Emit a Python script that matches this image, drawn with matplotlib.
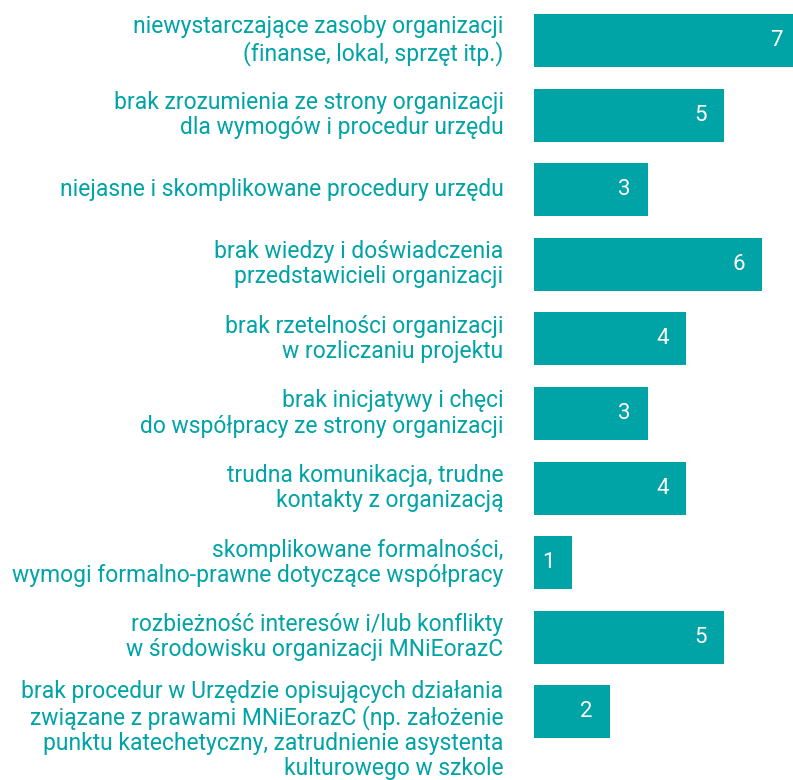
import matplotlib.pyplot as plt

labels = [
    "niewystarczające zasoby organizacji\n(finanse, lokal, sprzęt itp.)",
    "brak zrozumienia ze strony organizacji\ndla wymogów i procedur urzędu",
    "niejasne i skomplikowane procedury urzędu",
    "brak wiedzy i doświadczenia\nprzedstawicieli organizacji",
    "brak rzetelności organizacji\nw rozliczaniu projektu",
    "brak inicjatywy i chęci\ndo współpracy ze strony organizacji",
    "trudna komunikacja, trudne\nkontakty z organizacją",
    "skomplikowane formalności,\nwymogi formalno-prawne dotyczące współpracy",
    "rozbieżność interesów i/lub konflikty\nw środowisku organizacji MNiEorazC",
    "brak procedur w Urzędzie opisujących działania\nzwiązane z prawami MNiEorazC (np. założenie\npunktu katechetyczny, zatrudnienie asystenta\nkulturowego w szkole",
]
values = [7, 5, 3, 6, 4, 3, 4, 1, 5, 2]

teal = "#00A3A6"
plt.rcParams["font.family"] = ["Roboto", "DejaVu Sans"]

fig = plt.figure(figsize=(7.93, 7.80), dpi=100)
ax = fig.add_axes([534 / 793, 0, 259 / 793, 1])

pos = list(range(len(values)))
ax.barh(pos, values, height=0.71, color=teal)

for i, (lab, v) in enumerate(zip(labels, values)):
    ax.text(v - 0.62, i, str(v), color="white", fontsize=16,
            ha="center", va="center")
    if lab.count("\n") > 2:
        ax.text(-0.8, i - 0.43, lab, color=teal, fontsize=16.5, ha="right",
                va="top", multialignment="right", linespacing=1.12, clip_on=False)
    else:
        ax.text(-0.8, i, lab, color=teal, fontsize=16.5, ha="right",
                va="center", multialignment="right", linespacing=1.12, clip_on=False)

ax.set_xlim(0, 259 / 38)
ax.set_ylim(-0.543 + 780 / 74.6, -0.543)
ax.axis("off")

fig.savefig("out.png", dpi=100)
